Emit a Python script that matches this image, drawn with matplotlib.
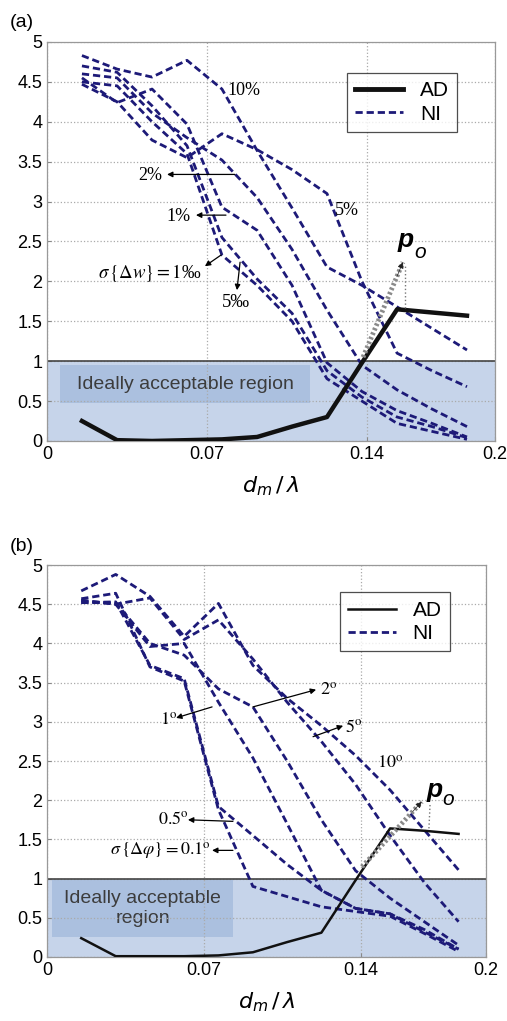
import matplotlib
matplotlib.use('Agg')
import matplotlib.pyplot as plt
from matplotlib.patches import Rectangle

plt.rcParams['font.family'] = ['Liberation Sans', 'DejaVu Sans']
plt.rcParams['mathtext.fontset'] = 'stix'

# sample positions d_m / lambda
x_vals = [0.0156, 0.0313, 0.0469, 0.0625, 0.0781, 0.0938,
          0.1094, 0.125, 0.1406, 0.1563, 0.1719, 0.1875]

# (a) amplitude errors
ad_a = [0.25, 0.01, 0.0, 0.01, 0.02, 0.05, 0.18, 0.30, 0.98, 1.65, 1.61, 1.57]
ni_a_10pc = [4.83, 4.66, 4.56, 4.77, 4.41, 3.64, 2.92, 2.18, 1.95, 1.68, 1.41, 1.14]
ni_a_5pc = [4.47, 4.25, 3.77, 3.55, 3.85, 3.65, 3.40, 3.10, 2.00, 1.10, 0.88, 0.68]
ni_a_2pc = [4.60, 4.55, 4.11, 3.80, 3.52, 3.05, 2.40, 1.64, 0.95, 0.64, 0.40, 0.18]
ni_a_1pc = [4.55, 4.24, 4.41, 3.97, 2.93, 2.64, 1.95, 0.98, 0.62, 0.38, 0.22, 0.05]
ni_a_5pm = [4.70, 4.62, 4.20, 3.70, 2.55, 2.03, 1.60, 0.88, 0.55, 0.30, 0.18, 0.04]
ni_a_1pm = [4.50, 4.45, 4.00, 3.60, 2.33, 1.95, 1.50, 0.78, 0.50, 0.22, 0.12, 0.02]

# (b) phase errors
ad_b = [0.24, 0.01, 0.01, 0.01, 0.02, 0.06, 0.19, 0.31, 0.98, 1.64, 1.61, 1.57]
ni_b_10 = [4.67, 4.88, 4.60, 4.09, 4.51, 3.72, 3.30, 2.95, 2.57, 2.13, 1.62, 1.11]
ni_b_5 = [4.55, 4.50, 4.58, 4.05, 4.30, 3.80, 3.25, 2.75, 2.20, 1.55, 0.95, 0.45]
ni_b_2 = [4.52, 4.52, 4.00, 3.85, 3.42, 3.19, 2.50, 1.75, 1.10, 0.75, 0.45, 0.15]
ni_b_1 = [4.55, 4.50, 3.96, 4.00, 3.25, 2.54, 1.70, 0.85, 0.62, 0.55, 0.35, 0.10]
ni_b_05 = [4.52, 4.53, 3.72, 3.55, 1.92, 1.55, 1.18, 0.85, 0.62, 0.55, 0.32, 0.10]
ni_b_01 = [4.57, 4.64, 3.70, 3.52, 1.88, 0.90, 0.77, 0.64, 0.58, 0.52, 0.30, 0.07]

x_ticks = [0, 1 / 14, 2 / 14, 0.2]
x_tick_labels = ['0', '0.07', '0.14', '0.2']
y_ticks = [0, 0.5, 1, 1.5, 2, 2.5, 3, 3.5, 4, 4.5, 5]
y_tick_labels = ['0', '0.5', '1', '1.5', '2', '2.5', '3', '3.5', '4', '4.5', '5']

NAVY = '#1d1a78'
SERIF = ['Liberation Serif', 'DejaVu Serif']
NI_LW = 2.0
NI_DASH = (2.6, 1.4)


def draw_panel(ax, ad, ni_list, ad_lw, box, box_text):
    ax.axhspan(0, 1, color='#c6d4ea', zorder=0.5, lw=0)
    ax.add_patch(Rectangle((box[0], box[1]), box[2], box[3],
                           color='#abc0df', lw=0, zorder=0.6))
    ax.axhline(1, color='#444444', lw=1.2, zorder=1.6)
    for ni in ni_list:
        ax.plot(x_vals, ni, color=NAVY, lw=NI_LW, dashes=NI_DASH, zorder=2)
    ax.plot(x_vals, ad, color='#111111', lw=ad_lw, zorder=3, label='AD')
    ax.plot([], [], color=NAVY, lw=NI_LW, dashes=NI_DASH, label='NI')
    ax.text(box[0] + box[2] / 2, box[1] + box[3] / 2, box_text,
            ha='center', va='center', fontsize=14, color='#3c3c3c',
            linespacing=1.2, zorder=1)

    ax.set_xlim(0, 0.2)
    ax.set_ylim(0, 5)
    ax.set_xticks(x_ticks)
    ax.set_xticklabels(x_tick_labels)
    ax.set_yticks(y_ticks)
    ax.set_yticklabels(y_tick_labels)
    ax.tick_params(labelsize=13, direction='in', length=3, color='#888888')
    ax.grid(True, ls=':', color='#aaaaaa', lw=0.9)
    for s in ax.spines.values():
        s.set_color('#999999')
        s.set_linewidth(0.9)
    ax.set_xlabel(r'$d_m\,/\,\lambda$', fontsize=16, labelpad=8,
                  math_fontfamily='dejavusans')


def arrow(ax, tail, head):
    ax.annotate('', xy=head, xytext=tail,
                arrowprops=dict(arrowstyle='-|>', color='black', lw=0.9,
                                mutation_scale=8, shrinkA=0, shrinkB=0))


def p_o(ax, p_xy, o_xy, tail, head, v_from, v_to):
    ax.plot([tail[0], head[0]], [tail[1], head[1]], color='#8a8a8a',
            lw=3.5, ls=(0, (0.5, 0.5)), zorder=4)
    ax.annotate('', xy=head, xytext=(tail[0] + 0.85 * (head[0] - tail[0]),
                                     tail[1] + 0.85 * (head[1] - tail[1])),
                arrowprops=dict(arrowstyle='-|>', color='#222222', lw=0.5,
                                mutation_scale=9, shrinkA=0, shrinkB=0),
                zorder=5)
    ax.plot([v_from[0], v_to[0]], [v_from[1], v_to[1]], color='#777777',
            lw=1, ls=':', zorder=4)
    ax.text(p_xy[0], p_xy[1], 'p', fontsize=19, fontweight='bold',
            fontstyle='italic', ha='left', va='baseline')
    ax.text(o_xy[0], o_xy[1], 'o', fontsize=15, fontstyle='italic',
            ha='left', va='baseline')


def legend(ax, anchor):
    leg = ax.legend(loc='upper left', bbox_to_anchor=anchor, fontsize=15,
                    frameon=True, fancybox=False, edgecolor='#222222',
                    handlelength=2.3, borderpad=0.4, labelspacing=0.2,
                    borderaxespad=0)
    leg.get_frame().set_linewidth(0.9)
    return leg


fig = plt.figure(figsize=(5.07, 10.21), dpi=100)
ax1 = fig.add_axes([0.0927, 0.5681, 0.8836, 0.3908])
ax2 = fig.add_axes([0.0927, 0.0627, 0.8659, 0.3839])

# ---- (a)
draw_panel(ax1, ad_a, [ni_a_10pc, ni_a_5pc, ni_a_2pc, ni_a_1pc, ni_a_5pm, ni_a_1pm],
           3.2, (0.0058, 0.475, 0.1116, 0.475), 'Ideally acceptable region')
leg = legend(ax1, (0.67, 0.922))
leg.get_lines()[0].set_linewidth(3.5)

ax1.text(0.0804, 4.39, '10%', fontsize=13, family=SERIF, va='center')
ax1.text(0.1286, 2.89, '5%', fontsize=13, family=SERIF, va='center')
ax1.text(0.0406, 3.33, '2%', fontsize=13, family=SERIF, va='center')
arrow(ax1, (0.0839, 3.34), (0.0536, 3.34))
ax1.text(0.0531, 2.81, '1%', fontsize=13, family=SERIF, va='center')
arrow(ax1, (0.0799, 2.83), (0.0665, 2.83))
ax1.text(0.0228, 2.11, r'$\sigma\,\{\Delta w\} = 1$‰', fontsize=13.5,
         family=SERIF, va='center')
arrow(ax1, (0.0777, 2.33), (0.0705, 2.19))
ax1.text(0.0781, 1.73, '5‰', fontsize=13.5, family=SERIF, va='center')
arrow(ax1, (0.0862, 2.24), (0.0848, 1.89))
p_o(ax1, (0.1567, 2.43), (0.1638, 2.29), (0.1411, 1.05), (0.1589, 2.24),
    (0.1598, 1.66), (0.1598, 2.22))

# ---- (b)
draw_panel(ax2, ad_b, [ni_b_10, ni_b_5, ni_b_2, ni_b_1, ni_b_05, ni_b_01],
           1.8, (0.0023, 0.255, 0.0824, 0.725), 'Ideally acceptable\nregion')
legend(ax2, (0.667, 0.93))

ax2.text(0.1244, 3.41, r'$2^{\rm o}$', fontsize=13, va='center')
arrow(ax2, (0.0938, 3.19), (0.1226, 3.41))
ax2.text(0.0515, 3.02, r'$1^{\rm o}$', fontsize=13, va='center')
arrow(ax2, (0.0752, 3.19), (0.0588, 3.05))
ax2.text(0.1358, 2.93, r'$5^{\rm o}$', fontsize=13, va='center')
arrow(ax2, (0.1212, 2.81), (0.1349, 2.95))
ax2.text(0.1503, 2.47, r'$10^{\rm o}$', fontsize=13, va='center')
ax2.text(0.0506, 1.75, r'$0.5^{\rm o}$', fontsize=13, va='center')
arrow(ax2, (0.0847, 1.73), (0.0642, 1.75))
ax2.text(0.0287, 1.36, r'$\sigma\,\{\Delta\varphi\} = 0.1^{\rm o}$', fontsize=13,
         va='center')
arrow(ax2, (0.0847, 1.36), (0.0752, 1.36))
p_o(ax2, (0.1731, 2.04), (0.1800, 1.94), (0.1435, 1.15), (0.1707, 1.98),
    (0.1740, 1.64), (0.1745, 1.94))

fig.text(10 / 507, 1 - 27 / 1021, '(a)', fontsize=14)
fig.text(10 / 507, 1 - 551 / 1021, '(b)', fontsize=14)

fig.savefig('out.png', dpi=100)
